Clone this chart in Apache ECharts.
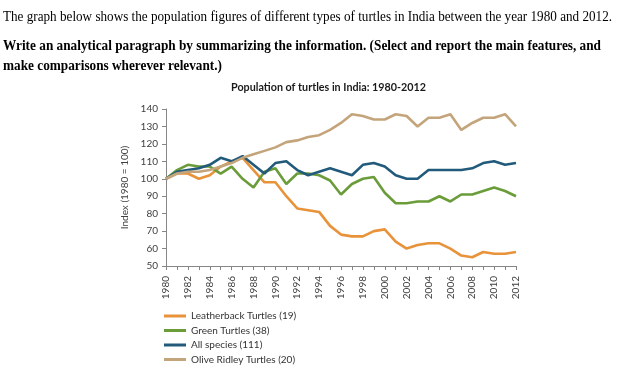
<!DOCTYPE html>
<html><head><meta charset="utf-8">
<script src="https://cdn.jsdelivr.net/npm/echarts@6/dist/echarts.min.js"></script>
<style>html,body{margin:0;padding:0;background:#fff}#c{width:632px;height:388px}</style>
</head><body><div id="c"></div>
<script>
const years = ['1980','1981','1982','1983','1984','1985','1986','1987','1988','1989','1990','1991','1992','1993','1994','1995','1996','1997','1998','1999','2000','2001','2002','2003','2004','2005','2006','2007','2008','2009','2010','2011','2012'];
const leatherback = [100,103,103,100,102,107,110,112,105,98,98,90,83,82,81,73,68,67,67,70,71,64,60,62,63,63,60,56,55,58,57,57,58];
const greenTurtles = [100,105,108,107,107,103,107,100,95,104,106,97,103,103,102,99,91,97,100,101,92,86,86,87,87,90,87,91,91,93,95,93,90];
const allSpecies = [100,104,105,106,108,112,110,113,108,103,109,110,105,102,104,106,104,102,108,109,107,102,100,100,105,105,105,105,106,109,110,108,109];
const oliveRidley = [100,103,104,104,105,107,109,112,114,116,118,121,122,124,125,128,132,137,136,134,134,137,136,130,135,135,137,128,132,135,135,137,130];
const seriesNames = ['Leatherback Turtles (19)','Green Turtles (38)','All species (111)','Olive Ridley Turtles (20)'];
const seriesColors = ['#e8923a','#6a9c3a','#215a7a','#c4a47a'];
const yMin = 50, yMax = 140, yStep = 10;
const yAxisName = 'Index (1980 = 100)';
const chartTitle = 'Population of turtles in India: 1980-2012';
const headerLines = [
  {text:'The graph below shows the population figures of different types of turtles in India between the year 1980 and 2012.', bold:false},
  {text:'Write an analytical paragraph by summarizing the information. (Select and report the main features, and', bold:true},
  {text:'make comparisons wherever relevant.)', bold:true}
];

const ctx = document.createElement('canvas').getContext('2d');
function measure(text, font){ ctx.font = font; return ctx.measureText(text).width; }

const headerY = [17, 46, 66];
const headerW = [609, 598, 219];
const graphics = headerLines.map((h,i)=>{
  const font = (h.bold?'bold ':'') + '14px "Liberation Serif"';
  const s = headerW[i] / measure(h.text, font);
  return {type:'text', x:3, y:headerY[i], scaleX:s, style:{text:h.text, font:font, fill:'#000', verticalAlign:'middle'}};
});
const titleFont = 'bold 10.5px Lato';
const ts = 195 / measure(chartTitle, titleFont);
graphics.push({type:'text', x:231, y:88, scaleX:ts, style:{text:chartTitle, font:titleFont, fill:'#1a1a1a', verticalAlign:'middle'}});

const chart = echarts.init(document.getElementById('c'), null, {renderer:'canvas'});
chart.setOption({
  animation:false,
  backgroundColor:'#fff',
  graphic: graphics,
  grid:{left:166, right:116, top:109, bottom:122, containLabel:false},
  legend:{
    orient:'vertical', left:164, top:310, padding:0,
    icon:'rect', itemWidth:22, itemHeight:3, itemGap:2.5,
    textStyle:{fontFamily:'Lato', fontSize:10, color:'#333', lineHeight:12},
    data: seriesNames
  },
  xAxis:{
    type:'category', data:years, boundaryGap:false,
    axisLine:{lineStyle:{color:'#868686', width:1}},
    axisTick:{interval:0, length:4, lineStyle:{color:'#868686'}},
    axisLabel:{interval:1, rotate:90, fontFamily:'Lato', fontSize:10, color:'#404040', margin:10}
  },
  yAxis:{
    type:'value', min:yMin, max:yMax, interval:yStep,
    name:yAxisName, nameLocation:'middle', nameGap:36, nameRotate:90,
    nameTextStyle:{fontFamily:'Lato', fontSize:10, color:'#404040'},
    axisLine:{show:true, lineStyle:{color:'#868686', width:1}},
    axisTick:{show:true, length:4, lineStyle:{color:'#868686'}},
    splitLine:{show:false},
    axisLabel:{fontFamily:'Lato', fontSize:10, color:'#404040', margin:8}
  },
  series:[leatherback, greenTurtles, allSpecies, oliveRidley].map((d,i)=>({
    name:seriesNames[i], type:'line', data:d, symbol:'none', showSymbol:false,
    lineStyle:{width:2.6, color:seriesColors[i]}, itemStyle:{color:seriesColors[i]}
  }))
});
</script></body></html>
